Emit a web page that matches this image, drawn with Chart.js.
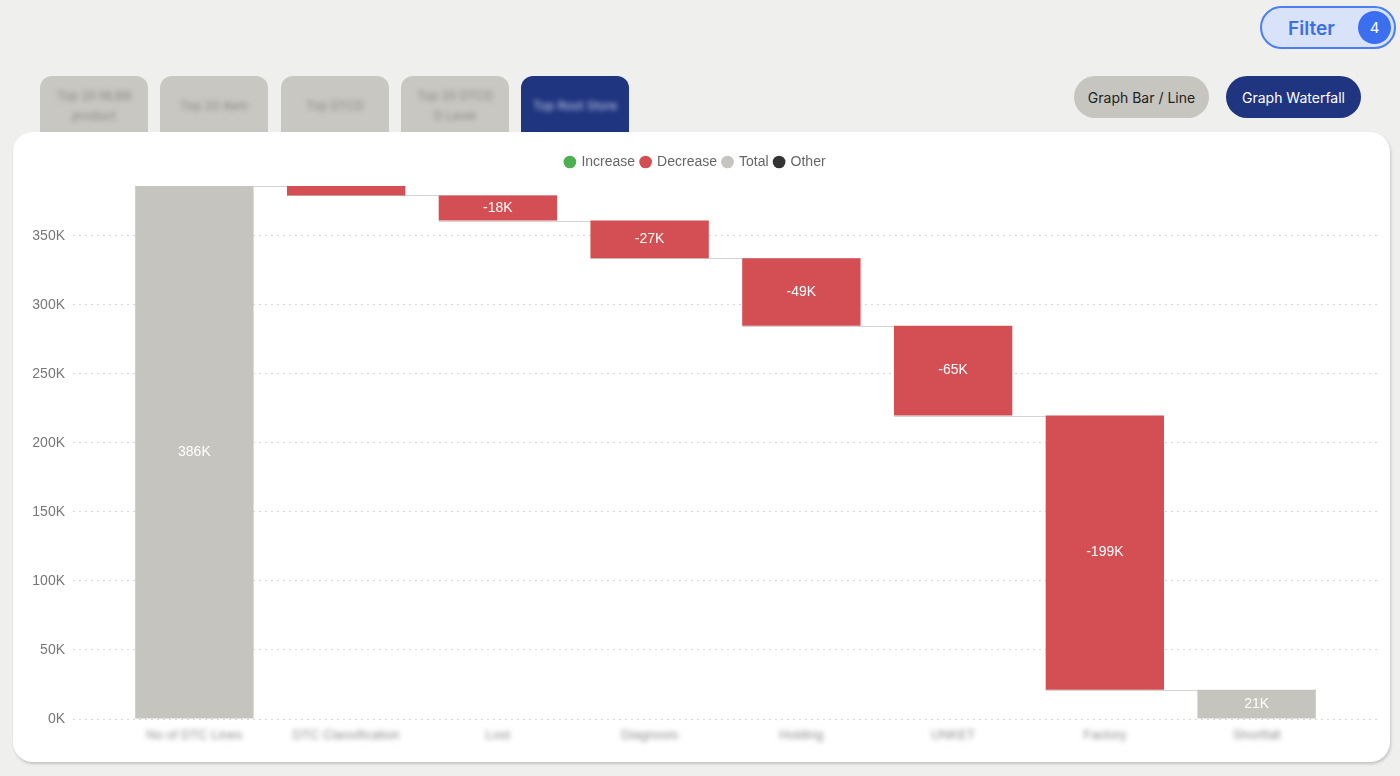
<!DOCTYPE html>
<html lang="en">
<head>
    <meta charset="UTF-8">
    <title>Graph Waterfall</title>
    <script src="https://cdn.jsdelivr.net/npm/chart.js"></script>
    <style>
        html, body { margin: 0; padding: 0; }
        body {
            width: 1400px; height: 776px; overflow: hidden;
            background: #efefed; position: relative;
            font-family: "Inter", "Noto Sans", sans-serif;
        }
        .filter {
            position: absolute; left: 1260px; top: 6px; width: 132px; height: 39px;
            border: 2px solid #4a7ef2; border-radius: 22px; background: #d8e2f8;
        }
        .filter span {
            position: absolute; left: 26px; top: 9px; font-size: 19px; font-weight: 600; color: #3e6fe3;
        }
        .filter .badge {
            position: absolute; left: 96px; top: 3px; width: 33px; height: 33px; border-radius: 50%;
            background: #3b6ff0; color: #fff; font-size: 15px; text-align: center; line-height: 33px;
        }
        .tab {
            position: absolute; top: 76px; width: 108px; height: 64px; border-radius: 12px 12px 0 0;
            background: #c8c7c1; color: #8a8984; font-size: 12px; text-align: center;
            display: flex; align-items: flex-start; justify-content: center; padding-top: 10px; box-sizing: border-box;
        }
        .tab span { filter: blur(2.5px); line-height: 20px; }
        .tab.active { background: #20357f; color: #c9cfec; }
        .btn {
            position: absolute; top: 76px; width: 135px; height: 42px; border-radius: 21px;
            font-size: 14px; text-align: center; line-height: 44px;
        }
        .btn.grey { left: 1074px; background: #c6c5c0; color: #222; }
        .btn.navy { left: 1226px; background: #20357f; color: #fff; }
        .card {
            position: absolute; left: 13px; top: 132px; width: 1377px; height: 630px;
            background: #fff; border-radius: 20px; box-shadow: 1px 2px 3px rgba(0,0,0,0.18);
        }
        .card canvas { position: absolute; left: 0; top: 0; }
    </style>
</head>
<body>
<div class="filter"><span>Filter</span><div class="badge">4</div></div>

<div class="tab" style="left:40px"><span>Top 20 NLBB<br>product</span></div>
<div class="tab" style="left:160px; padding-top:20px"><span>Top 20 Item</span></div>
<div class="tab" style="left:281px; padding-top:20px"><span>Top DTCD</span></div>
<div class="tab" style="left:401px"><span>Top 20 DTCD<br>D Level</span></div>
<div class="tab active" style="left:521px; padding-top:20px"><span>Top Root Store</span></div>

<div class="btn grey">Graph Bar / Line</div>
<div class="btn navy">Graph Waterfall</div>

<div class="card">
    <canvas id="waterfallChart" width="1377" height="630"></canvas>
</div>

<script>
    const categories = ['No of DTC Lines', 'DTC Classification', 'Lost', 'Diagnosis', 'Holding', 'UNKET', 'Factory', 'Shortfall'];
    const startTotal = 386200;
    const changes = [-6800, -18200, -27300, -48900, -65100, -198700];
    const yTicks = [0, 50000, 100000, 150000, 200000, 250000, 300000, 350000];

    const colors = {
        increase: '#4caf50',
        decrease: '#d44f53',
        total: '#c5c4be',
        other: '#333333'
    };

    // build floating bars from the running total
    const bars = [];
    const barColors = [];
    let running = startTotal;
    bars.push({ x: 0, y: [0, startTotal], delta: startTotal });
    barColors.push(colors.total);
    changes.forEach((c, i) => {
        const next = running + c;
        bars.push({ x: i + 1, y: [next, running], delta: c });
        barColors.push(c < 0 ? colors.decrease : colors.increase);
        running = next;
    });
    bars.push({ x: categories.length - 1, y: [0, running], delta: running });
    barColors.push(colors.total);

    function fmtK(v) {
        return Math.round(v / 1000) + 'K';
    }

    // thin connector lines between consecutive bars
    const connectors = {
        id: 'connectors',
        beforeDatasetsDraw(chart) {
            const ctx = chart.ctx;
            const meta = chart.getDatasetMeta(0);
            const y = chart.scales.y;
            ctx.save();
            ctx.strokeStyle = '#d3d3d3';
            ctx.lineWidth = 1;
            let level = startTotal;
            for (let i = 0; i < meta.data.length - 1; i++) {
                const a = meta.data[i], b = meta.data[i + 1];
                if (i > 0) level += changes[i - 1];
                const py = Math.round(y.getPixelForValue(level)) + 0.5;
                ctx.beginPath();
                ctx.moveTo(a.x - a.width / 2, py);
                ctx.lineTo(b.x + b.width / 2, py);
                ctx.stroke();
            }
            ctx.restore();
        }
    };

    const barLabels = {
        id: 'barLabels',
        afterDatasetsDraw(chart) {
            const ctx = chart.ctx;
            const meta = chart.getDatasetMeta(0);
            ctx.save();
            ctx.fillStyle = '#ffffff';
            ctx.font = '14px "Liberation Sans", Arial, sans-serif';
            ctx.textAlign = 'center';
            ctx.textBaseline = 'middle';
            meta.data.forEach((el, i) => {
                const h = Math.abs(el.base - el.y);
                if (h < 16) return;
                ctx.fillText(fmtK(bars[i].delta), el.x, (el.y + el.base) / 2);
            });
            ctx.restore();
        }
    };

    // category names are blurred in the reference; legend gets a little extra room below
    const tweaks = {
        id: 'tweaks',
        beforeUpdate(chart) {
            if (chart.legend && !chart.legend._tall) {
                const lg = chart.legend;
                const fit = lg.fit.bind(lg);
                lg.fit = function () { fit(); this.height += 7; };
                lg._tall = true;
            }
        },
        afterUpdate(chart) {
            const s = chart.scales.x;
            if (s._blurred) return;
            const orig = s.drawLabels.bind(s);
            s.drawLabels = function (area) {
                chart.ctx.save();
                chart.ctx.filter = 'blur(2.6px)';
                orig(area);
                chart.ctx.restore();
            };
            s._blurred = true;
        }
    };

    const ctx = document.getElementById('waterfallChart').getContext('2d');
    new Chart(ctx, {
        type: 'bar',
        data: {
            datasets: [{
                data: bars,
                backgroundColor: barColors,
                borderWidth: 0,
                barPercentage: 0.78,
                categoryPercentage: 1
            }]
        },
        plugins: [connectors, barLabels, tweaks],
        options: {
            responsive: false,
            animation: false,
            layout: { padding: { top: 17, right: 12, left: 0, bottom: 0 } },
            plugins: {
                tooltip: { enabled: false },
                legend: {
                    onClick: null,
                    labels: {
                        usePointStyle: true,
                        pointStyle: 'circle',
                        boxWidth: 9,
                        boxHeight: 9,
                        padding: 6,
                        color: '#666',
                        font: { size: 14, family: '"Liberation Sans", Arial, sans-serif' },
                        generateLabels() {
                            return [
                                ['Increase', colors.increase],
                                ['Decrease', colors.decrease],
                                ['Total', colors.total],
                                ['Other', colors.other]
                            ].map(([t, c]) => ({
                                text: t, fillStyle: c, strokeStyle: c, lineWidth: 0,
                                pointStyle: 'circle', fontColor: '#666'
                            }));
                        }
                    }
                }
            },
            scales: {
                x: {
                    type: 'linear',
                    offset: false,
                    min: -0.8,
                    max: 7.8,
                    grid: { display: false, offset: false },
                    border: { display: false },
                    afterBuildTicks(scale) {
                        scale.ticks = categories.map((c, i) => ({ value: i }));
                    },
                    afterFit(scale) { scale.height = 43; },
                    ticks: {
                        padding: 1,
                        color: '#8c8c8c',
                        maxRotation: 0,
                        font: { size: 13, family: '"Liberation Sans", Arial, sans-serif' },
                        callback: (v) => categories[v]
                    }
                },
                y: {
                    min: 0,
                    max: startTotal,
                    grid: { color: '#d6d6d6', drawTicks: false },
                    border: { display: false, dash: [2, 4] },
                    afterBuildTicks(scale) {
                        scale.ticks = yTicks.map(v => ({ value: v }));
                    },
                    afterFit(scale) { scale.width = 60; },
                    ticks: {
                        padding: 8,
                        color: '#777',
                        font: { size: 14, family: '"Liberation Sans", Arial, sans-serif' },
                        callback: (v) => fmtK(v)
                    }
                }
            }
        }
    });
</script>
</body>
</html>
